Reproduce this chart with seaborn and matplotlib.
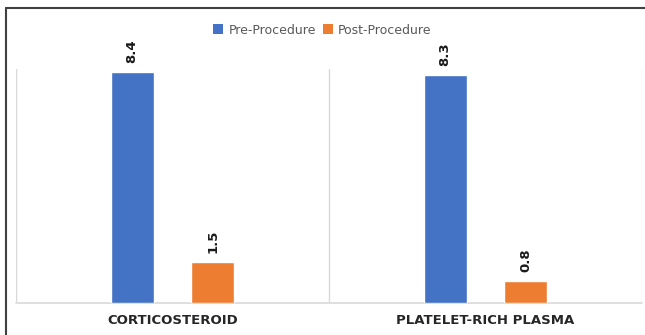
import matplotlib
matplotlib.use("Agg")
import matplotlib.pyplot as plt
import seaborn as sns
import pandas as pd
from matplotlib.lines import Line2D
from matplotlib.patches import Patch

groups = ["CORTICOSTEROID", "PLATELET-RICH PLASMA"]
series = ["Pre-Procedure", "Post-Procedure"]
pre_values = [8.4, 8.3]
post_values = [1.5, 0.8]
colors = ["#4472C4", "#ED7D31"]

df = pd.DataFrame({
    "group": groups * 2,
    "series": [series[0]] * 2 + [series[1]] * 2,
    "value": pre_values + post_values,
})

sns.set_theme(style="white")
plt.rcParams['font.family'] = ['DejaVu Sans']

W, H = 645, 335
fig = plt.figure(figsize=(W / 100, H / 100), dpi=100)
ax = fig.add_axes([16 / W, (H - 303) / H, 626 / W, 234 / H])

sns.barplot(data=df, x="group", y="value", hue="series", palette=colors,
            width=0.516, gap=0.47, ax=ax, legend=False, saturation=1)

ax.set_xlim(-0.5, 1.5)
ax.set_ylim(0, 8.5)
ax.set_yticks([])
ax.set_xlabel("")
ax.set_ylabel("")
for s in ax.spines.values():
    s.set_visible(False)
for xv in [-0.5, 0.5, 1.5]:
    ax.axvline(xv, color="#d9d9d9", lw=1, zorder=0)
ax.axhline(0, color="#d9d9d9", lw=1.2, zorder=0, clip_on=False)

ax.tick_params(axis="x", length=0, pad=8)
ax.set_xticks(range(len(groups)))
ax.set_xticklabels(groups, fontweight="bold", fontsize=9.5, color="#262626")

for cont in ax.containers:
    for bar in cont:
        h = bar.get_height()
        ax.annotate(f"{h:.1f}", (bar.get_x() + bar.get_width() / 2, h),
                    xytext=(0, 9), textcoords="offset pixels",
                    ha="center", va="bottom", rotation=90,
                    fontsize=9.5, fontweight="bold", color="#1a1a1a",
                    annotation_clip=False)

handles = [Patch(facecolor=c, edgecolor="none") for c in colors]
fig.legend(handles, series, loc="center", bbox_to_anchor=(0.5, (H - 30) / H),
           ncol=2, frameon=False, fontsize=9, labelcolor="#595959",
           handlelength=0.8, handleheight=0.8, handletextpad=0.4,
           columnspacing=0.6)

# outer frame (left and top edges visible)
fig.add_artist(Line2D([6 / W, 6 / W], [0, (H - 8) / H], color="#404040", lw=1.5,
                      transform=fig.transFigure))
fig.add_artist(Line2D([6 / W, 1], [(H - 8) / H, (H - 8) / H], color="#404040", lw=1.5,
                      transform=fig.transFigure))

fig.savefig("out.png", dpi=100)
